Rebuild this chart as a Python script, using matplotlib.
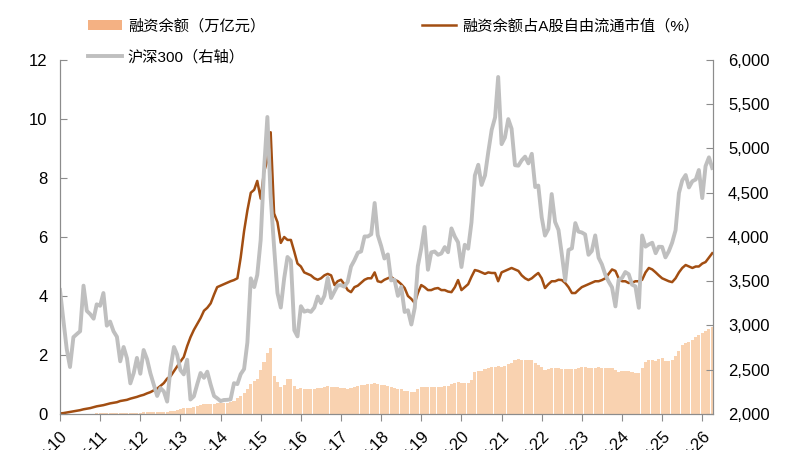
import numpy as np
import pandas as pd
import matplotlib
matplotlib.use("Agg")
import matplotlib.pyplot as plt
from matplotlib.ticker import FuncFormatter, MultipleLocator
from matplotlib.patches import Patch
from matplotlib.lines import Line2D

plt.rcParams['font.family'] = ['Liberation Sans', 'Noto Sans CJK SC', 'DejaVu Sans']

# === 数据（月末，2010-03 ~ 2026-06）===
months = pd.date_range("2010-03-31", "2026-06-30", freq="ME")

# 融资余额（万亿元）
margin_balance = [
    0.000, 0.001, 0.002, 0.003, 0.004, 0.005, 0.006, 0.008, 0.011, 0.013,
    0.016, 0.019, 0.022, 0.025, 0.027, 0.029, 0.031, 0.032, 0.033, 0.034, 0.035, 0.034,
    0.037, 0.042, 0.047, 0.055, 0.065, 0.070, 0.072, 0.074, 0.073, 0.076, 0.080, 0.090,
    0.11, 0.14, 0.17, 0.19, 0.22, 0.21, 0.23, 0.27, 0.30, 0.33, 0.34, 0.34,
    0.35, 0.37, 0.38, 0.38, 0.38, 0.40, 0.45, 0.54, 0.62, 0.70, 0.85, 1.02,
    1.12, 1.18, 1.48, 1.77, 2.06, 2.24, 1.30, 1.10, 0.91, 0.97, 1.18, 1.17,
    0.95, 0.86, 0.87, 0.85, 0.84, 0.84, 0.85, 0.89, 0.89, 0.92, 0.95, 0.93,
    0.91, 0.93, 0.89, 0.88, 0.86, 0.88, 0.90, 0.94, 0.98, 0.99, 1.01, 1.02,
    1.05, 1.01, 0.99, 0.98, 0.96, 0.91, 0.89, 0.85, 0.84, 0.78, 0.77, 0.76,
    0.75, 0.84, 0.90, 0.92, 0.90, 0.90, 0.91, 0.92, 0.93, 0.94, 0.95, 1.01,
    1.04, 1.09, 1.04, 1.05, 1.06, 1.16, 1.42, 1.47, 1.47, 1.53, 1.56, 1.58,
    1.61, 1.62, 1.60, 1.64, 1.68, 1.72, 1.82, 1.86, 1.83, 1.82, 1.82, 1.83,
    1.73, 1.65, 1.58, 1.50, 1.52, 1.56, 1.56, 1.56, 1.54, 1.53, 1.53, 1.52,
    1.52, 1.55, 1.58, 1.59, 1.56, 1.55, 1.56, 1.58, 1.57, 1.56, 1.56, 1.55,
    1.50, 1.44, 1.46, 1.46, 1.47, 1.44, 1.40, 1.39, 1.55, 1.75, 1.82, 1.84,
    1.80, 1.86, 1.90, 1.80, 1.81, 1.84, 1.95, 2.15, 2.35, 2.42, 2.45, 2.50,
    2.62, 2.68, 2.74, 2.80, 2.88, 2.95,
]

# 融资余额占A股自由流通市值（%）
margin_ratio = [
    0.02, 0.03, 0.05, 0.07, 0.09, 0.11, 0.13, 0.16, 0.18, 0.20,
    0.23, 0.26, 0.28, 0.30, 0.33, 0.36, 0.38, 0.40, 0.44, 0.46, 0.48, 0.52,
    0.55, 0.58, 0.62, 0.65, 0.70, 0.74, 0.80, 0.86, 0.95, 1.05, 1.20, 1.28,
    1.45, 1.60, 1.78, 1.93, 2.30, 2.60, 2.85, 3.05, 3.25, 3.50, 3.60, 3.75,
    4.05, 4.30, 4.35, 4.40, 4.45, 4.50, 4.54, 4.60, 5.30, 6.20, 6.90, 7.50,
    7.60, 7.90, 7.30, 8.20, 8.60, 9.55, 6.80, 6.50, 5.80, 6.00, 5.90, 5.90,
    5.50, 5.10, 5.00, 4.80, 4.75, 4.70, 4.60, 4.55, 4.60, 4.70, 4.75, 4.70,
    4.37, 4.50, 4.55, 4.40, 4.20, 4.13, 4.30, 4.35, 4.45, 4.55, 4.60, 4.60,
    4.80, 4.50, 4.47, 4.55, 4.60, 4.65, 4.55, 4.50, 4.40, 4.27, 4.00, 3.90,
    3.76, 4.10, 4.37, 4.30, 4.20, 4.20, 4.25, 4.27, 4.20, 4.20, 4.15, 4.13,
    4.30, 4.54, 4.20, 4.30, 4.40, 4.65, 4.88, 4.85, 4.80, 4.75, 4.80, 4.78,
    4.78, 4.50, 4.80, 4.85, 4.90, 4.95, 4.90, 4.85, 4.70, 4.60, 4.54, 4.60,
    4.70, 4.78, 4.60, 4.27, 4.40, 4.50, 4.50, 4.55, 4.54, 4.44, 4.30, 4.10,
    4.10, 4.20, 4.30, 4.35, 4.40, 4.45, 4.50, 4.50, 4.54, 4.60, 4.75, 4.90,
    4.85, 4.60, 4.50, 4.50, 4.44, 4.45, 4.50, 4.50, 4.55, 4.80, 4.95, 4.90,
    4.80, 4.70, 4.60, 4.55, 4.50, 4.47, 4.60, 4.80, 4.95, 5.05, 5.00, 4.95,
    5.00, 5.00, 5.10, 5.15, 5.30, 5.45,
]

# 沪深300（右轴）
csi300 = [
    3401, 3068, 2736, 2531, 2868, 2903, 2935, 3450, 3165, 3128,
    3077, 3239, 3223, 3367, 2998, 3044, 2935, 2872, 2595, 2757, 2631, 2346,
    2464, 2634, 2455, 2723, 2620, 2462, 2332, 2204, 2293, 2254, 2140, 2523,
    2757, 2673, 2495, 2448, 2613, 2164, 2200, 2338, 2463, 2409, 2478, 2331,
    2203, 2178, 2146, 2158, 2160, 2165, 2348, 2338, 2450, 2508, 2808, 3533,
    3434, 3572, 3966, 4749, 5356, 4450, 3887, 3366, 3203, 3534, 3774, 3731,
    2946, 2877, 3218, 3156, 3169, 3154, 3203, 3327, 3253, 3336, 3538, 3311,
    3387, 3452, 3456, 3439, 3492, 3666, 3737, 3822, 3837, 4006, 4006, 4031,
    4384, 4023, 3899, 3757, 3803, 3510, 3517, 3335, 3438, 3153, 3172, 3011,
    3201, 3670, 3872, 4113, 3630, 3826, 3836, 3799, 3814, 3886, 3828, 4097,
    4003, 3940, 3661, 3912, 3868, 4164, 4695, 4816, 4588, 4695, 4960, 5211,
    5351, 5808, 5049, 5123, 5332, 5224, 4811, 4806, 4866, 4908, 4832, 4940,
    4564, 4581, 4223, 4016, 4091, 4485, 4170, 4079, 3805, 3508, 3853, 3872,
    4157, 4061, 4051, 4029, 3799, 3842, 4018, 3765, 3690, 3573, 3497, 3431,
    3216, 3516, 3537, 3604, 3579, 3462, 3442, 3200, 4017, 3891, 3916, 3935,
    3817, 3890, 3888, 3770, 3840, 3936, 4076, 4497, 4640, 4700, 4560, 4630,
    4650, 4757, 4440, 4800, 4900, 4780,
]

tick_years = list(range(2010, 2027))
tick_labels = [f"Mar-{y % 100:02d}" for y in tick_years]

# === ГРАФИК ===
fig = plt.figure(figsize=(8, 4.5), dpi=100)
ax = fig.add_axes([0.075, 0.08, 0.816, 0.7867])
ax2 = ax.twinx()

bar_color = "#F9D2B0"
line_color = "#A24E12"
gray_color = "#BFBFBF"

ax.bar(months, margin_balance, width=28, color=bar_color, linewidth=0, align="center")
ax.plot(months, margin_ratio, color=line_color, lw=1.8)
ax2.plot(months, csi300, color=gray_color, lw=2.8)

ax.set_ylim(0, 12)
ax.yaxis.set_major_locator(MultipleLocator(2))
ax2.set_ylim(2000, 6000)
ax2.yaxis.set_major_locator(MultipleLocator(500))
ax2.yaxis.set_major_formatter(FuncFormatter(lambda v, p: f"{int(v):,}"))

ax.set_xlim(pd.Timestamp("2010-03-31"), pd.Timestamp("2026-07-05"))
ticks = [pd.Timestamp(f"{y}-03-31") for y in tick_years]
ax.set_xticks(ticks)
ax.set_xticklabels(tick_labels, rotation=45, ha="right", rotation_mode="anchor")

spine_color = "#8C8C8C"
for a in (ax, ax2):
    for side in ("left", "right", "bottom"):
        a.spines[side].set_color(spine_color)
    a.spines["top"].set_visible(False)
ax.tick_params(axis="x", direction="out", length=5, color=spine_color, labelsize=12, pad=5)
ax.tick_params(axis="y", direction="in", length=5, color=spine_color, labelsize=12, pad=9)
ax2.tick_params(axis="y", direction="in", length=5, color=spine_color, labelsize=12, pad=11)

handles = [
    Patch(facecolor="#F4B183", edgecolor="none"),
    Line2D([0], [0], color=gray_color, lw=2.8),
    Line2D([0], [0], color=line_color, lw=1.8),
]
labels = ["融资余额（万亿元）", "沪深300（右轴）", "融资余额占A股自由流通市值（%）"]
fig.legend(handles, labels, ncol=2, loc="upper left", bbox_to_anchor=(0.093, 0.99),
           frameon=False, fontsize=11, handlelength=2.2, handleheight=0.6,
           columnspacing=10.3, labelspacing=1.1, handletextpad=0.4)

fig.savefig("out.png", dpi=100)
